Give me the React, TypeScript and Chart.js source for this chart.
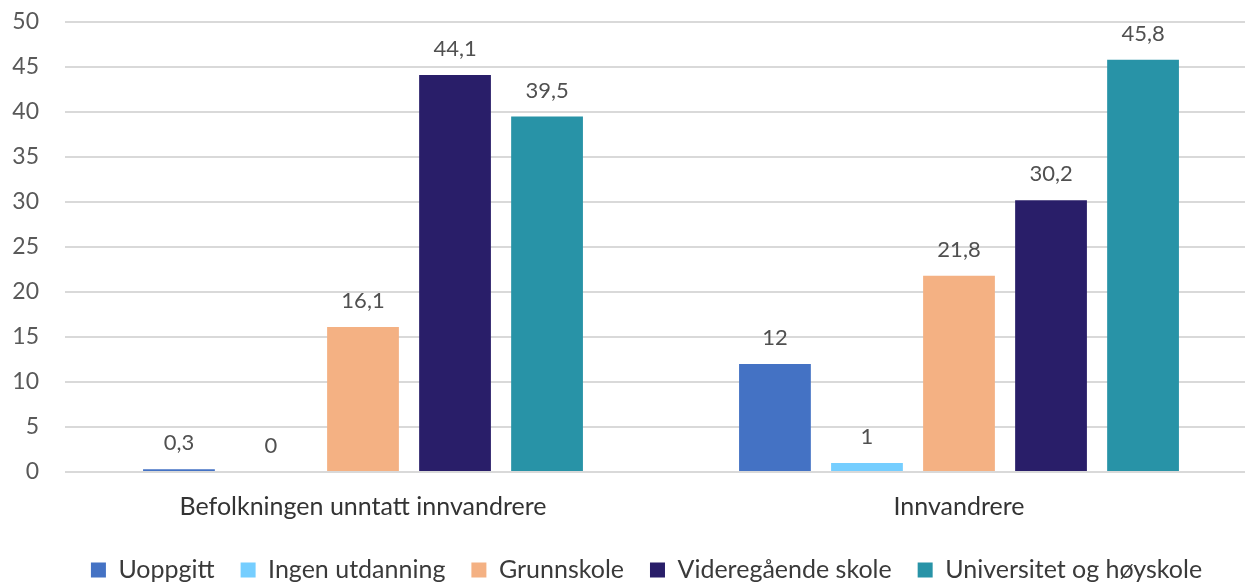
import React, { useEffect, useRef } from "react";
import { Chart, registerables } from "chart.js";

Chart.register(...registerables);

const categories = ["Befolkningen unntatt innvandrere", "Innvandrere"];
const seriesNames = [
  "Uoppgitt",
  "Ingen utdanning",
  "Grunnskole",
  "Videregående skole",
  "Universitet og høyskole",
];
const uoppgitt = [0.3, 12];
const ingenUtdanning = [0, 1];
const grunnskole = [16.1, 21.8];
const videregaende = [44.1, 30.2];
const universitet = [39.5, 45.8];
const seriesColors = ["#4472C4", "#75CEFF", "#F4B183", "#291E69", "#2893A7"];
const yTicks = [0, 5, 10, 15, 20, 25, 30, 35, 40, 45, 50];

const FONT = "Lato, 'Noto Sans', sans-serif";

const dataLabelPlugin = {
  id: "dataLabels",
  afterDatasetsDraw(chart: any) {
    const ctx = chart.ctx;
    ctx.save();
    ctx.font = `22px ${FONT}`;
    ctx.fillStyle = "#505050";
    ctx.textAlign = "center";
    ctx.textBaseline = "alphabetic";
    chart.data.datasets.forEach((ds: any, i: number) => {
      const meta = chart.getDatasetMeta(i);
      meta.data.forEach((el: any, j: number) => {
        const v = ds.data[j];
        const txt = String(v).replace(".", ",");
        ctx.fillText(txt, el.x, el.y - 19);
      });
    });
    ctx.restore();
  },
};

const legendShiftPlugin = {
  id: "legendShift",
  afterLayout(chart: any) {
    const l = chart.legend;
    if (l) {
      l.left += 13;
      l.right += 13;
    }
  },
};

export default function App() {
  const ref = useRef<HTMLCanvasElement | null>(null);
  useEffect(() => {
    if (!ref.current) return;
    const values = [uoppgitt, ingenUtdanning, grunnskole, videregaende, universitet];
    const chart = new Chart(ref.current, {
      type: "bar",
      data: {
        labels: categories,
        datasets: seriesNames.map((name, i) => ({
          label: name,
          data: values[i],
          backgroundColor: seriesColors[i],
          borderWidth: 0,
          categoryPercentage: 0.772,
          barPercentage: 0.78,
        })),
      },
      options: {
        animation: false,
        responsive: false,
        maintainAspectRatio: false,
        layout: { padding: { left: 10, right: 13, top: 22, bottom: 7.5 } },
        plugins: {
          legend: {
            position: "bottom",
            labels: {
              boxWidth: 15,
              boxHeight: 15,
              padding: 26,
              color: "#3a3a3a",
              font: { family: FONT, size: 25 },
            },
          },
          tooltip: { enabled: false },
        },
        scales: {
          x: {
            grid: { display: false, drawTicks: false },
            border: { display: false },
            afterFit: (axis: any) => {
              axis.height = 59.5;
            },
            ticks: {
              color: "#333333",
              font: { family: FONT, size: 25 },
              padding: 20,
            },
          },
          y: {
            min: 0,
            max: 50,
            afterBuildTicks: (axis: any) => {
              axis.ticks = yTicks.map((v) => ({ value: v }));
            },
            afterFit: (axis: any) => {
              axis.width = 55;
              axis.paddingTop = 0;
              axis.paddingBottom = 0;
            },
            grid: { color: "#d9d9d9", lineWidth: 2, drawTicks: false },
            border: { display: false },
            ticks: {
              color: "#595959",
              font: { family: FONT, size: 23 },
              padding: 26,
            },
          },
        },
      },
      plugins: [dataLabelPlugin, legendShiftPlugin],
    });
    return () => chart.destroy();
  }, []);
  return (
    <div style={{ position: "fixed", left: 0, top: 0, width: 1245, height: 582, overflow: "hidden", background: "#fff" }}>
      <canvas ref={ref} width={1270} height={600} style={{ display: "block" }} />
    </div>
  );
}
